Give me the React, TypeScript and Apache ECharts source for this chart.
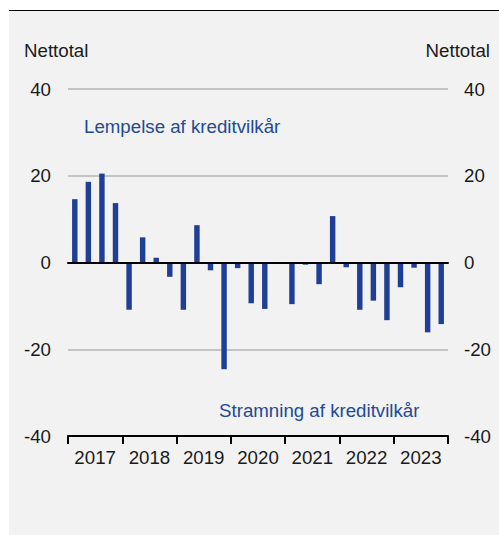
import React, { useEffect, useRef } from "react";
import * as echarts from "echarts";

const years = ["2017", "2018", "2019", "2020", "2021", "2022", "2023"];
const quarters = years.flatMap((y) => [y + "K1", y + "K2", y + "K3", y + "K4"]);
const values = [
  14.6, 18.6, 20.5, 13.7,
  -10.9, 5.8, 1.1, -3.3,
  -10.9, 8.6, -1.8, -24.6,
  -1.3, -9.4, -10.7, -0.3,
  -9.6, -0.5, -5.0, 10.7,
  -1.1, -10.9, -8.8, -13.3,
  -5.7, -1.2, -16.1, -14.2,
];
const yTicks = { min: -40, max: 40, interval: 20 };
const axisTitle = "Nettotal";
const upperNote = "Lempelse af kreditvilkår";
const lowerNote = "Stramning af kreditvilkår";

const FONT = "Liberation Sans, Arial, sans-serif";
const FS = 18.7;
const BLUE = "#1f3f96";
const TEXT_BLUE = "#234a94";

export default function App() {
  const ref = useRef<HTMLDivElement>(null);
  useEffect(() => {
    if (!ref.current) return;
    const chart = echarts.init(ref.current, undefined, { renderer: "svg" });
    const labelStyle = { color: "#1a1a1a", fontSize: FS, fontFamily: FONT };
    const font = `${FS}px ${FONT}`;
    chart.setOption({
      animation: false,
      graphic: [
        { type: "rect", shape: { x: 9, y: 10, width: 490, height: 525 }, style: { fill: "#f2f2f2" }, z: -10 },
        { type: "line", shape: { x1: 9, y1: 10.5, x2: 499, y2: 10.5 }, style: { stroke: "#000", lineWidth: 1 }, z: -9 },
        { type: "text", x: 24, y: 50, style: { text: axisTitle, fill: "#1a1a1a", textVerticalAlign: "middle", font } },
        { type: "text", x: 490, y: 50, style: { text: axisTitle, fill: "#1a1a1a", textAlign: "right", textVerticalAlign: "middle", font } },
        { type: "text", x: 84, y: 126, style: { text: upperNote, fill: TEXT_BLUE, textVerticalAlign: "middle", font } },
        { type: "text", x: 219, y: 410, style: { text: lowerNote, fill: TEXT_BLUE, textVerticalAlign: "middle", font } },
      ],
      grid: { left: 68, right: 51, top: 89, bottom: 99, containLabel: false },
      xAxis: [
        {
          type: "category",
          data: quarters,
          position: "bottom",
          axisLine: { show: true, onZero: true, lineStyle: { color: "#000", width: 2 } },
          axisTick: { show: false },
          axisLabel: { show: false },
          splitLine: { show: false },
          z: 5,
        },
        {
          type: "category",
          data: years,
          position: "bottom",
          boundaryGap: true,
          axisLine: { show: true, onZero: false, lineStyle: { color: "#000", width: 2 } },
          axisTick: { show: true, length: 8, alignWithLabel: false, lineStyle: { color: "#000", width: 2 } },
          axisLabel: { ...labelStyle, margin: 12 },
          splitLine: { show: false },
        },
      ],
      yAxis: [
        {
          type: "value",
          ...yTicks,
          position: "left",
          axisLine: { show: false },
          axisTick: { show: false },
          axisLabel: { ...labelStyle, margin: 17 },
          splitLine: { show: true, lineStyle: { color: "#b4b4b4", width: 1.5 } },
        },
        {
          type: "value",
          ...yTicks,
          position: "right",
          axisLine: { show: false },
          axisTick: { show: false },
          axisLabel: { ...labelStyle, margin: 16 },
          splitLine: { show: false },
        },
      ],
      series: [
        {
          type: "bar",
          xAxisIndex: 0,
          yAxisIndex: 0,
          data: values,
          barWidth: "40%",
          itemStyle: { color: BLUE },
          z: 3,
        },
      ],
    });
    return () => chart.dispose();
  }, []);
  return (
    <div style={{ position: "fixed", left: 0, top: 0, width: 499, height: 535, background: "#fff" }}>
      <div ref={ref} style={{ width: 499, height: 535 }} />
    </div>
  );
}
